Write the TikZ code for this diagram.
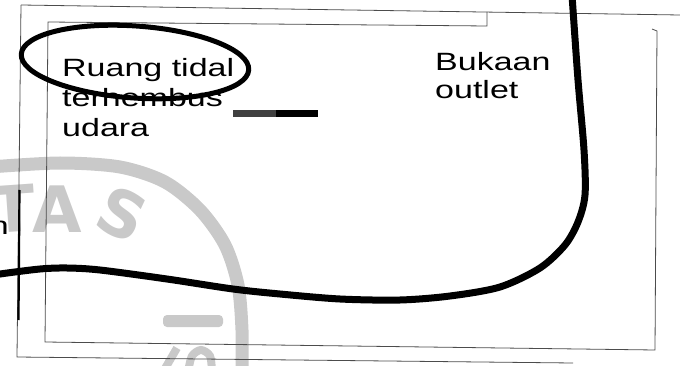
\documentclass[tikz,border=0pt]{standalone}
\usepackage{fontspec}
\setmainfont{Liberation Sans}[FakeStretch=1.36]
\newfontfamily\sealfont{DejaVu Sans}
\usetikzlibrary{positioning}

\definecolor{wmark}{gray}{0.79}

\tikzset{
  frame/.style={draw=black!70, line width=0.8pt},
  roomtext/.style={inner sep=0pt, anchor=base west, font=\fontsize{25}{30}\selectfont},
  wmtext/.style={text=wmark, inner sep=0pt, font=\sealfont\bfseries\fontsize{64}{64}\selectfont},
  airflow/.style={line width=7pt},
}

\begin{document}
\begin{tikzpicture}[x=1pt, y=-1pt]
\useasboundingbox (0,0) rectangle (680,366);
\clip (0,0) rectangle (680,366);

% watermark of the scan
\draw[wmark, line width=13pt] plot[smooth] coordinates {(-10,167) (60,163) (120,167) (165,182) (200,210) (225,245) (238,285) (242,330) (242,375)};
\node[wmtext, rotate=4] (sealT) at (14,209) {T};
\node[wmtext, anchor=base] (sealA) at (57,233) {A};
\node[wmtext, rotate=-25] (sealS) at (122,214) {S};
\fill[wmark, rounded corners=4pt] (163,315) rectangle (223,327);
\draw[wmark, line width=8pt] (163,372) -- (177,348);
\draw[wmark, line width=8pt] plot[smooth] coordinates {(188,372) (192,356) (201,350) (210,356) (212,372)};

% frames
\draw[frame] (21,5) -- (680,15);
\draw[frame] (21,5) -- (17,357) -- (573,363);
\draw[frame] (487,12) -- (487,26) -- (48,22) -- (45,342) -- (655,350) -- (657,31) -- (652,29);
\draw[line width=2.2pt] (19.5,190) -- (18.5,320);

% texts
\node[roomtext] (ruang) at (62,77) {Ruang tidal};
\node[roomtext] (terhembus) at ([yshift=-30pt]ruang.base west) {terhembus};
\node[roomtext] (udara) at ([yshift=-30pt]terhembus.base west) {udara};
\node[roomtext] (bukaan) at (435,71) {Bukaan};
\node[roomtext] (outlet) at ([yshift=-28pt]bukaan.base west) {outlet};
\node[roomtext, anchor=base east] (cutn) at (9,235) {n};

% bar
\fill[black!75] (233,110) rectangle (276,117);
\fill (276,110) rectangle (318,117);

% ellipse round the dead zone
\draw[line width=5pt, rotate around={-4:(135,62)}] (135,62) ellipse [x radius=114, y radius=36];

% air path
\draw[airflow] plot[smooth] coordinates {(572,-5) (578,80) (584,150) (585,195) (578,222) (565,245) (540,268) (500,287) (450,296) (400,300) (340,299) (280,294) (233,289) (167,279) (100,270) (67,268) (40,269) (0,274) (-10,276)};

\end{tikzpicture}
\end{document}
